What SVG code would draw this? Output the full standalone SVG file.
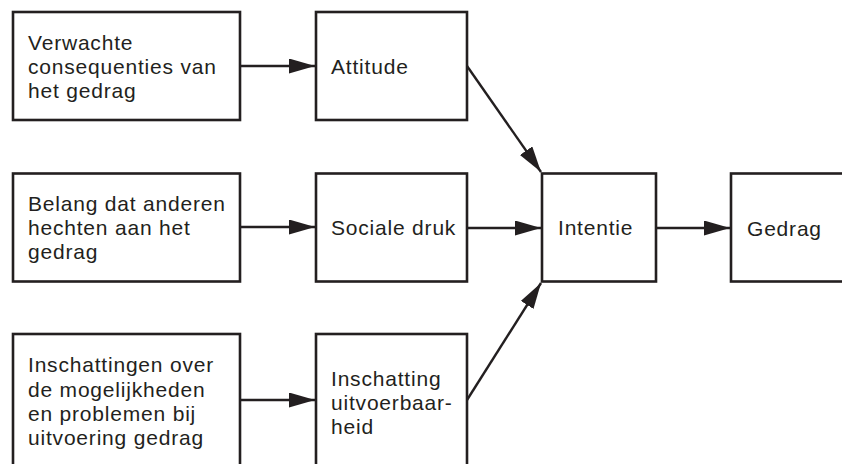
<svg xmlns="http://www.w3.org/2000/svg" width="842" height="464" viewBox="0 0 842 464">
<style>
.box{fill:#fff;stroke:#231f20;stroke-width:2.6}
.t{font-family:"Liberation Sans",Arial,sans-serif;font-size:21px;letter-spacing:0.8px;fill:#231f20}
.c{stroke:#231f20;stroke-width:2.4;fill:none}
</style>
<defs>
<marker id="ah" markerUnits="userSpaceOnUse" markerWidth="28" markerHeight="16" refX="26" refY="7.5" orient="auto">
<path d="M0,0 L26,7.5 L0,15 z" fill="#231f20"/>
</marker>
</defs>
<rect width="842" height="464" fill="#fff"/>
<g id="n-verwachte">
<rect class="box" x="13" y="12" width="227" height="108"/>
<text class="t" x="28" y="50">Verwachte</text>
<text class="t" x="28" y="74">consequenties van</text>
<text class="t" x="28" y="98">het gedrag</text>
</g>
<g id="n-attitude">
<rect class="box" x="316" y="12" width="151" height="108"/>
<text class="t" x="331" y="74">Attitude</text>
</g>
<g id="n-belang">
<rect class="box" x="13" y="173.5" width="227" height="108"/>
<text class="t" x="28" y="211">Belang dat anderen</text>
<text class="t" x="28" y="235">hechten aan het</text>
<text class="t" x="28" y="259">gedrag</text>
</g>
<g id="n-sociale">
<rect class="box" x="316" y="173.5" width="151" height="108"/>
<text class="t" x="331" y="235">Sociale druk</text>
</g>
<g id="n-intentie">
<rect class="box" x="542" y="173.5" width="114" height="108"/>
<text class="t" x="558" y="235">Intentie</text>
</g>
<g id="n-gedrag">
<rect class="box" x="731" y="173.5" width="125" height="108"/>
<text class="t" x="747" y="236">Gedrag</text>
</g>
<g id="n-inschattingen">
<rect class="box" x="13" y="334" width="227" height="150"/>
<text class="t" x="28" y="372">Inschattingen over</text>
<text class="t" x="28" y="397">de mogelijkheden</text>
<text class="t" x="28" y="421">en problemen bij</text>
<text class="t" x="28" y="445">uitvoering gedrag</text>
</g>
<g id="n-inschatting">
<rect class="box" x="316" y="334" width="151" height="150"/>
<text class="t" x="331" y="386">Inschatting</text>
<text class="t" x="331" y="410">uitvoerbaar-</text>
<text class="t" x="331" y="434">heid</text>
</g>
<g id="connectors">
<line class="c" x1="240" y1="66" x2="315" y2="66" marker-end="url(#ah)"/>
<line class="c" x1="240" y1="227" x2="315" y2="227" marker-end="url(#ah)"/>
<line class="c" x1="467" y1="228" x2="541" y2="228" marker-end="url(#ah)"/>
<line class="c" x1="656" y1="228" x2="730" y2="228" marker-end="url(#ah)"/>
<line class="c" x1="240" y1="400" x2="315" y2="400" marker-end="url(#ah)"/>
<line class="c" x1="467" y1="66" x2="541" y2="172" marker-end="url(#ah)"/>
<line class="c" x1="467" y1="400" x2="541" y2="283" marker-end="url(#ah)"/>
</g>
</svg>
